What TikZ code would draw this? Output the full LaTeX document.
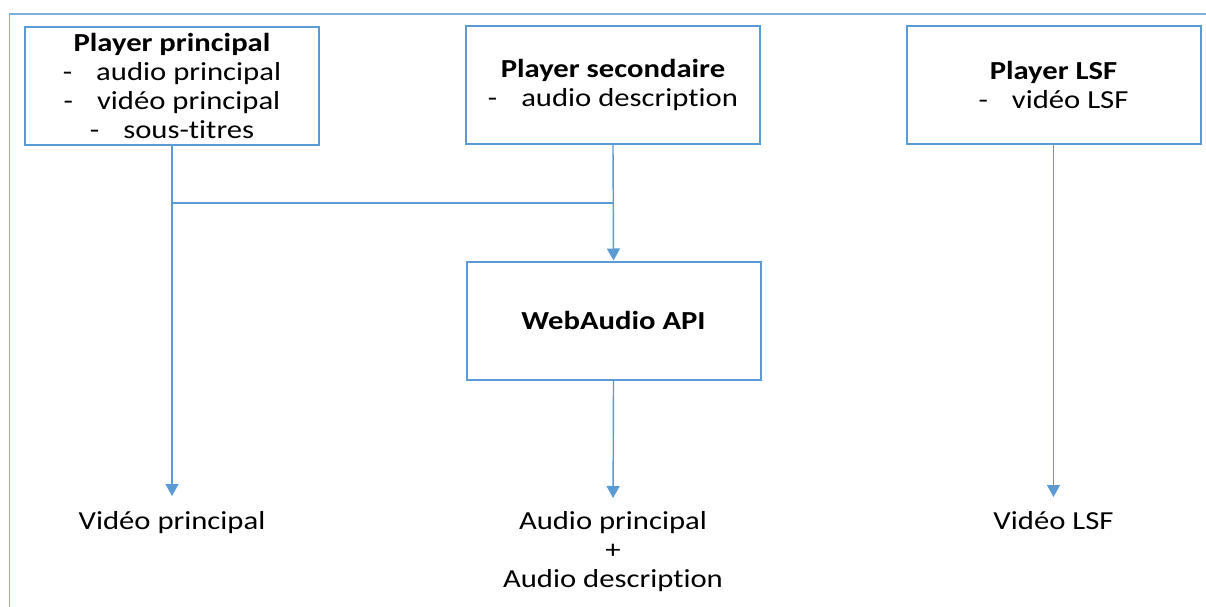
\documentclass[tikz,border=0pt]{standalone}
\usepackage{fontspec}
\setmainfont{Carlito}[FakeStretch=1.18, Ligatures=NoCommon]
\usetikzlibrary{arrows.meta}
\definecolor{linkblue}{HTML}{5B9BD5}
\definecolor{framebl}{HTML}{7EB1E1}
\newcommand{\itemdash}{-\hspace{24pt}}
\begin{document}
\begin{tikzpicture}[x=1pt,y=-1pt,
  player/.style={draw=linkblue, line width=2pt, rectangle, inner sep=0pt,
    minimum width=294pt, minimum height=118pt, align=center,
    font=\fontsize{26pt}{29pt}\selectfont},
  outlabel/.style={inner sep=0pt, align=center,
    font=\fontsize{26pt}{29pt}\selectfont},
  link/.style={draw=linkblue, line width=1.4pt},
  flow/.style={link, -{Triangle[width=13pt,length=12pt]}}
]
\useasboundingbox (0,0) rectangle (1206,607);
\fill[white] (0,0) rectangle (1206,607);

% enclosing frame, cut by the page on the right and at the bottom
\draw[framebl, line width=1.7pt] (9.5,620) -- (9.5,14) -- (1220,14);

% source players
\node[player] (pp)  at (172,86)  {\textbf{Player principal}\\ \itemdash audio principal\\ \itemdash vidéo principal\\ \itemdash sous-titres};
\node[player] (ps)  at (613,85)  {\textbf{Player secondaire}\\ \itemdash audio description};
\node[player] (lsf) at (1053.5,85) {\textbf{Player LSF}\\ \itemdash vidéo LSF};

% audio mixer
\node[player] (wa) at (613.5,320.5) {\textbf{WebAudio API}};

% outputs
\node[outlabel, anchor=north] (vp)  at (172,511)  {Vidéo principal};
\node[outlabel, anchor=north] (ap)  at (613,511)  {Audio principal\\ +\\ Audio description};
\node[outlabel, anchor=north] (vl)  at (1053.5,511) {Vidéo LSF};

% connectors
\coordinate (join) at (613,203);
\draw[link] (pp.south |- join) -- (join);
\draw[flow] (ps.south) -- (wa.north);
\draw[flow, shorten >=15pt] (pp.south) -- (vp.north);
\draw[flow, shorten >=13pt] (wa.south) -- (ap.north);
\draw[flow, shorten >=14pt] (lsf.south) -- (vl.north);
\end{tikzpicture}
\end{document}
